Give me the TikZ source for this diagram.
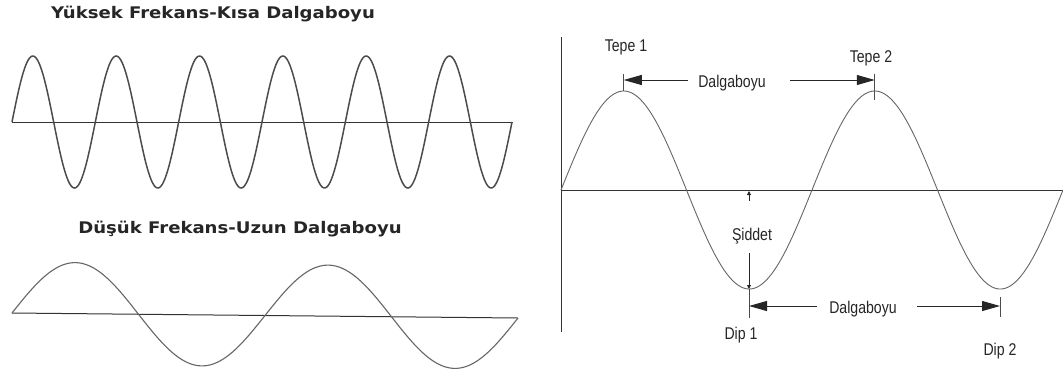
\documentclass[tikz,border=0pt]{standalone}
\usepackage{fontspec}
\usepackage{graphicx}
\setmainfont{Liberation Sans}
\newfontfamily\titlefont{DejaVu Sans}
\usetikzlibrary{arrows.meta}
\tikzset{
  axisline/.style={draw=black!80, line width=1pt},
  wavethick/.style={draw=black!70, line width=1.5pt},
  wavethin/.style={draw=black!60, line width=1.1pt},
  waveright/.style={draw=black!60, line width=0.9pt},
  titlelbl/.style={anchor=base, inner sep=0pt, text=black!85, font=\titlefont\bfseries\fontsize{16}{19}\selectfont},
  lbl/.style={anchor=base, inner sep=0pt, text=black!85, font=\fontsize{17}{20}\selectfont},
  dimarrow/.style={draw=black!85, line width=1pt, -{Triangle[length=18pt,width=10pt]}},
  smallarrow/.style={draw=black!85, line width=0.8pt, -{Triangle[length=4pt,width=4pt]}},
  tick/.style={draw=black!70, line width=0.8pt}
}
\newcommand{\narrow}[1]{\scalebox{0.83}[1]{#1}}
\newcommand{\widetitle}[1]{\scalebox{1.13}[1]{#1}}
\begin{document}
\begin{tikzpicture}[x=1pt, y=-1pt]
\useasboundingbox (0,0) rectangle (1063,376);
\fill[white] (0,0) rectangle (1063,376);

% ---------- top-left: high frequency ----------
\node[titlelbl] (t1) at (213,18) {\widetitle{Yüksek Frekans-Kısa Dalgaboyu}};
\coordinate (ax1l) at (12,122);
\coordinate (ax1r) at (513,122);
\draw[axisline] (ax1l) -- (ax1r);
\draw[wavethick] plot[domain=12:512, samples=400] (\x, {122 - 66*sin((\x-12)/83.333*360)});

% ---------- bottom-left: low frequency ----------
\node[titlelbl] (t2) at (240,233) {\widetitle{Düşük Frekans-Uzun Dalgaboyu}};
\coordinate (ax2l) at (12,313);
\coordinate (ax2r) at (518,318);
\draw[axisline] (ax2l) -- (ax2r);
\draw[wavethin] plot[domain=12:518, samples=300] (\x, {313 + (\x-12)*5/506 - 51*sin((\x-12)/253*360)});

% ---------- right: labelled wave ----------
\coordinate (origin) at (561,190);
\coordinate (vtop) at (561,37);
\coordinate (vbot) at (561,332);
\coordinate (hright) at (1063,190);
\draw[axisline] (vtop) -- (vbot);
\draw[axisline] (origin) -- (hright);
\draw[waveright] plot[domain=561:1063, samples=400] (\x, {190 - 99*sin((\x-561)/251*360)});

% peaks and troughs
\coordinate (pk1) at (623.75,91);
\coordinate (pk2) at (874.75,91);
\coordinate (tr1) at (749,289);
\coordinate (tr2) at (1000,289);

% Tepe labels
\node[lbl] (tepe1) at (626,51) {\narrow{Tepe 1}};
\node[lbl] (tepe2) at (871,62) {\narrow{Tepe 2}};

% top wavelength
\coordinate (pk1t) at (623.75,74);
\coordinate (pk2t) at (874.75,74);
\coordinate (pk2b) at (874.75,100);
\draw[tick] (pk1) -- (pk1t);
\draw[tick] (pk2b) -- (pk2t);
\node[lbl] (dal1) at (732,87) {\narrow{Dalgaboyu}};
\coordinate (a1l) at (688,80);
\coordinate (a1r) at (790,80);
\draw[dimarrow] (a1l) -- (a1l -| pk1);
\draw[dimarrow] (a1r) -- (a1r -| pk2);

% intensity
\node[lbl] (sid) at (752,240) {\narrow{Şiddet}};
\coordinate (s1a) at (749,201);
\coordinate (s1b) at (749,191);
\draw[smallarrow] (s1a) -- (s1b);
\coordinate (s2a) at (749,253);
\draw[smallarrow] (s2a) -- (tr1);

% bottom wavelength
\coordinate (tr1b) at (749,318);
\coordinate (tr2a) at (1000,297);
\coordinate (tr2b) at (1000,317);
\draw[tick] (tr1) -- (tr1b);
\draw[tick] (tr2a) -- (tr2b);
\node[lbl] (dal2) at (863,313) {\narrow{Dalgaboyu}};
\coordinate (a2l) at (817,306);
\coordinate (a2r) at (917,306);
\draw[dimarrow] (a2l) -- (a2l -| tr1);
\draw[dimarrow] (a2r) -- (a2r -| tr2);

% Dip labels
\node[lbl] (dip1) at (741,339) {\narrow{Dip 1}};
\node[lbl] (dip2) at (1000,355) {\narrow{Dip 2}};
\end{tikzpicture}
\end{document}
